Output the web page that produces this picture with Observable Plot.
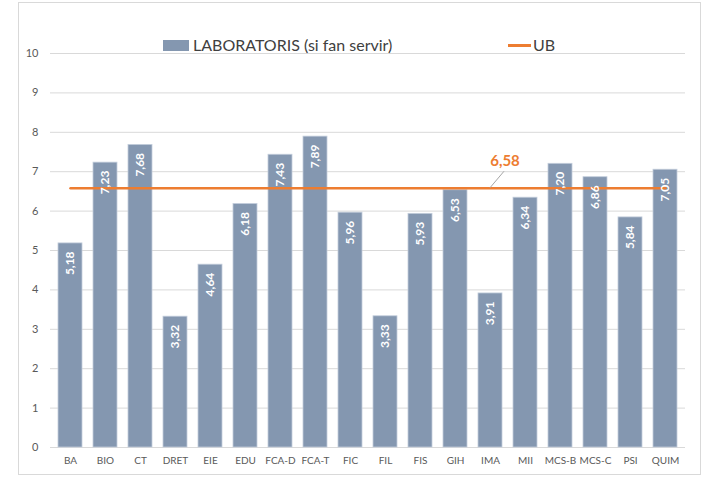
<!DOCTYPE html>
<html>
<head>
<meta charset="utf-8">
<script src="https://cdn.jsdelivr.net/npm/d3@7"></script>
<script src="https://cdn.jsdelivr.net/npm/@observablehq/plot@0.6"></script>
<style>
  body { margin: 0; background: #fff; font-family: Lato, "Open Sans", sans-serif; }
  #wrap { position: relative; width: 706px; height: 479px; }
  #frame { position: absolute; left: 18px; top: 2px; width: 683px; height: 473px; border: 1px solid #d9d9d9; box-sizing: border-box; }
  #chart { position: absolute; left: 0; top: 0; }
  .leg { position: absolute; font-size: 16px; color: #404040; line-height: 1; white-space: nowrap; }
  .sw { position: absolute; }
</style>
</head>
<body>
<div id="wrap">
  <div id="frame"></div>
  <div id="chart"></div>
  <div id="legend"></div>
</div>
<script>
const categories = ["BA","BIO","CT","DRET","EIE","EDU","FCA-D","FCA-T","FIC","FIL","FIS","GIH","IMA","MII","MCS-B","MCS-C","PSI","QUIM"];
const values = [5.18,7.23,7.68,3.32,4.64,6.18,7.43,7.89,5.96,3.33,5.93,6.53,3.91,6.34,7.20,6.86,5.84,7.05];
const ubValue = 6.58;
const ubLabelCategory = "IMA";
const yTicks = [0,1,2,3,4,5,6,7,8,9,10];
const seriesNames = ["LABORATORIS (si fan servir)", "UB"];

const barColor = "#8497B0";
const ubColor = "#ED7D31";

const data = categories.map((c, i) => ({cat: c, v: values[i]}));
const ubData = categories.map(c => ({cat: c, v: ubValue}));
const fmt = v => v.toFixed(2).replace(".", ",");

function leader(index, scales) {
  const sx = scales.x, sy = scales.y;
  const bw = typeof sx.bandwidth === "function" ? sx.bandwidth() : (sx.bandwidth || 0);
  const x0 = sx(ubLabelCategory) + bw / 2;
  const y0 = sy(ubValue);
  const ns = "http://www.w3.org/2000/svg";
  const l = document.createElementNS(ns, "line");
  l.setAttribute("x1", x0);
  l.setAttribute("y1", y0);
  l.setAttribute("x2", x0 + 14);
  l.setAttribute("y2", y0 - 16.5);
  l.setAttribute("stroke", "#a6a6a6");
  l.setAttribute("stroke-width", 1);
  return l;
}

const chart = Plot.plot({
  width: 706,
  height: 479,
  marginLeft: 50,
  marginRight: 21,
  marginTop: 53,
  marginBottom: 32,
  style: {fontFamily: "Lato, 'Open Sans', sans-serif", background: "transparent", overflow: "visible"},
  x: {domain: categories, paddingInner: 0.31, paddingOuter: 0.155, label: null, tickSize: 0, tickPadding: 9},
  y: {domain: [0, 10], ticks: yTicks, label: null, tickSize: 0, tickPadding: 12},
  marks: [
    Plot.gridY(yTicks, {stroke: "#d9d9d9", strokeOpacity: 1}),
    Plot.barY(data, {x: "cat", y: "v", fill: barColor, stroke: "#c3cddb", strokeWidth: 0.8}),
    Plot.lineY(ubData, {x: "cat", y: "v", stroke: ubColor, strokeWidth: 2.5}),
    leader,
    Plot.text([{cat: ubLabelCategory, v: ubValue}], {x: "cat", y: "v", text: d => fmt(d.v), fill: ubColor, fontWeight: "bold", fontSize: 15, dx: 14.5, dy: -27}),
    Plot.text(data, {x: "cat", y: "v", text: d => fmt(d.v), rotate: -90, textAnchor: "end", dy: 8, fill: "white", fontWeight: "bold", fontSize: 12}),
    Plot.axisX({tickSize: 0, tickPadding: 9, fontSize: 10, fill: "#595959", label: null}),
    Plot.axisY(yTicks, {tickSize: 0, tickPadding: 12, fontSize: 11, fill: "#595959", label: null})
  ]
});
document.getElementById("chart").appendChild(chart);

const legend = document.getElementById("legend");
legend.innerHTML = `
  <div class="sw" style="left:163px;top:40px;width:26px;height:11px;background:${barColor}"></div>
  <div class="leg" style="left:193px;top:37px">${seriesNames[0]}</div>
  <div class="sw" style="left:508px;top:44px;width:23px;height:3px;background:${ubColor}"></div>
  <div class="leg" style="left:533px;top:37px">${seriesNames[1]}</div>
`;
</script>
</body>
</html>
